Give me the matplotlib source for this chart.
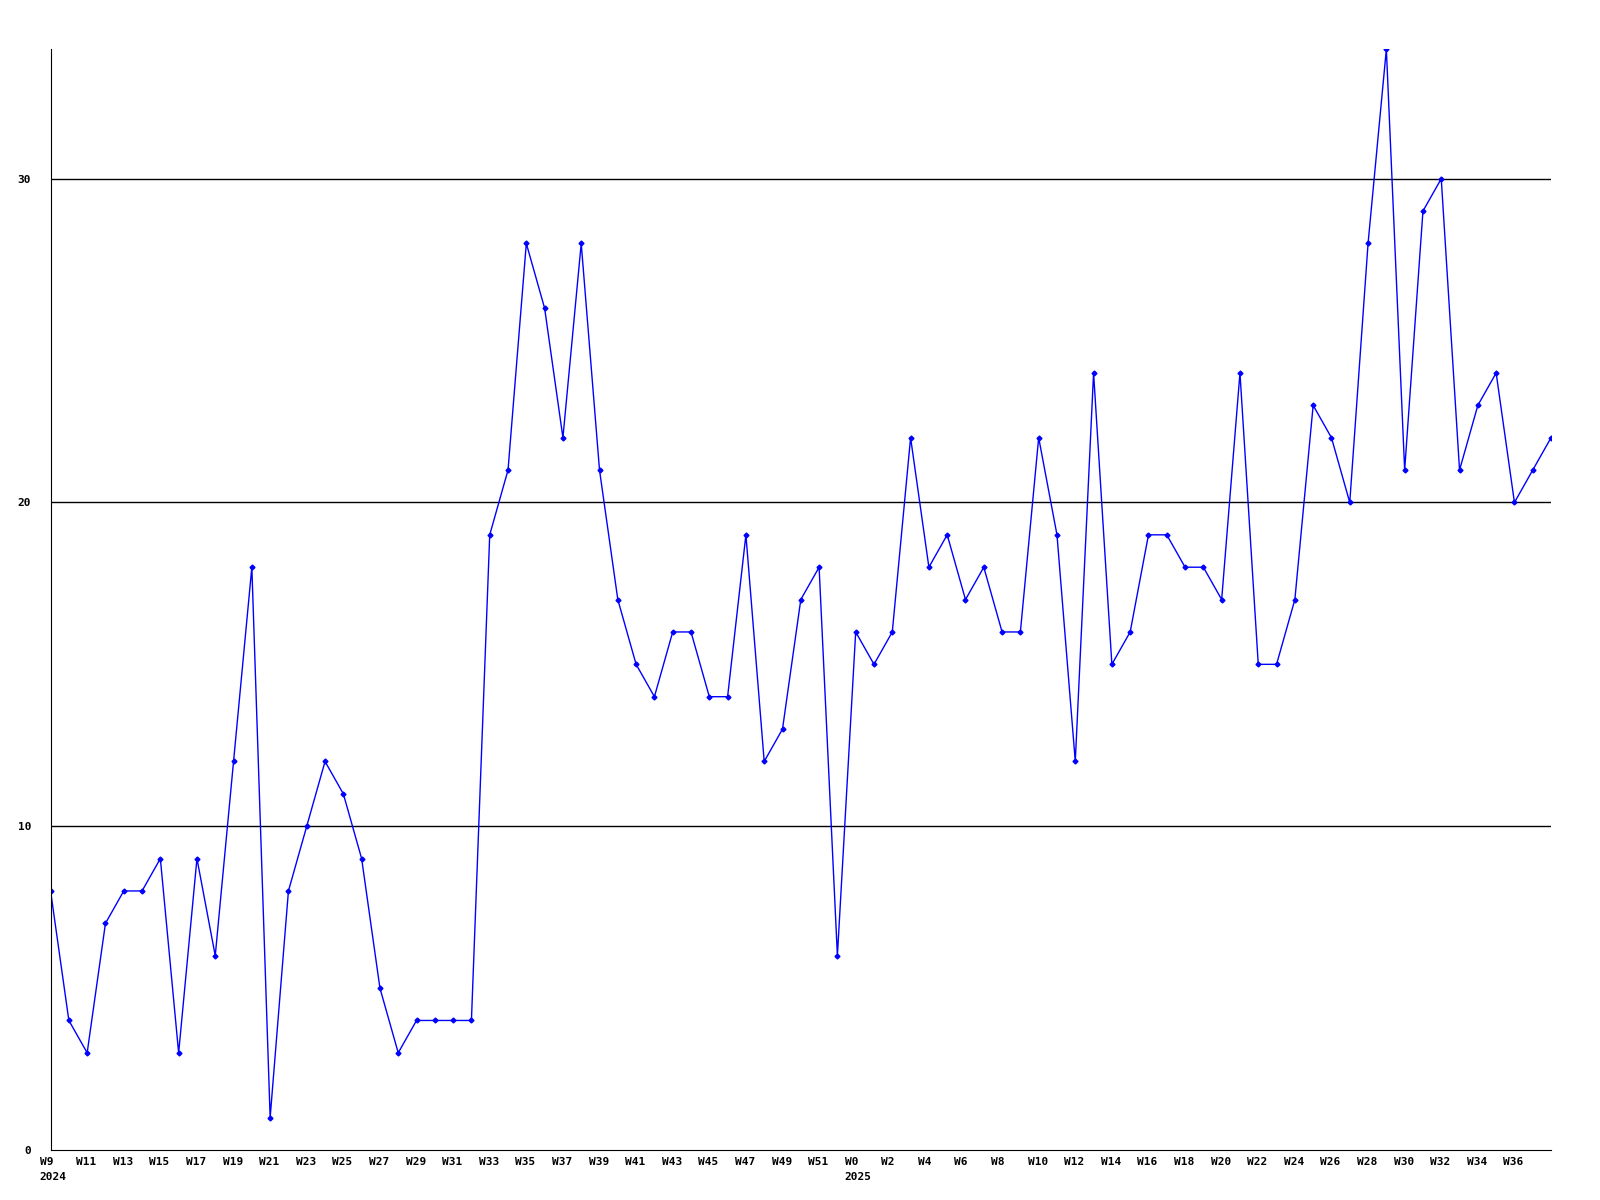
import matplotlib
matplotlib.use('Agg')
import matplotlib.pyplot as plt
import matplotlib.transforms as mtransforms

# weeks W9..W52 of 2024, then W0..W38 of 2025
weeks_2024 = list(range(9, 53))
weeks_2025 = list(range(0, 39))

values = [8, 4, 3, 7, 8, 8, 9, 3, 9, 6, 12, 18, 1, 8, 10, 12, 11, 9, 5, 3,
          4, 4, 4, 4, 19, 21, 28, 26, 22, 28, 21, 17, 15, 14, 16, 16, 14, 14,
          19, 12, 13, 17, 18, 6,
          16, 15, 16, 22, 18, 19, 17, 18, 16, 16, 22, 19, 12, 24, 15, 16, 19,
          19, 18, 18, 17, 24, 15, 15, 17, 23, 22, 20, 28, 34, 21, 29, 30, 21,
          23, 24, 20, 21, 22]

week_names = ['W%d' % w for w in weeks_2024] + ['W%d' % w for w in weeks_2025]
y_ticks = [0, 10, 20, 30]


def main():
    fig = plt.figure(figsize=(16, 12), dpi=100)
    ax = fig.add_axes([0.0316, 0.0417, 0.9378, 0.9173])

    x = list(range(len(values)))
    ax.plot(x, values, color='#0000ff', linewidth=1, marker='D', markersize=2.5)

    ax.set_xlim(0, len(values) - 1)
    ax.set_ylim(0, max(values))

    for v in y_ticks[1:]:
        ax.axhline(v, color='black', linewidth=1, zorder=0)

    tick_pos = list(range(0, len(values) - 1, 2))
    labels = []
    for i in tick_pos:
        lab = week_names[i]
        if i == 0:
            lab += '\n2024'
        elif i == len(weeks_2024):
            lab += '\n2025'
        labels.append(lab)
    ax.set_xticks(tick_pos)
    ax.set_xticklabels(labels, fontfamily='DejaVu Sans Mono', fontweight='bold',
                       fontsize=8, ha='left', linespacing=1.6)

    ax.set_yticks(y_ticks)
    ax.set_yticklabels([str(v) for v in y_ticks], fontfamily='DejaVu Sans Mono',
                       fontweight='bold', fontsize=8)
    ax.tick_params(axis='x', length=0, pad=5)
    ax.tick_params(axis='y', length=0, pad=14)

    # shift week labels a bit left of their point, like the original
    offset = mtransforms.ScaledTranslation(-11 / 100, 0, fig.dpi_scale_trans)
    for lab in ax.get_xticklabels():
        lab.set_transform(lab.get_transform() + offset)

    ax.spines['top'].set_visible(False)
    ax.spines['right'].set_visible(False)
    ax.spines['left'].set_color('black')
    ax.spines['bottom'].set_color('black')

    fig.savefig('out.png', dpi=100, facecolor='white')


if __name__ == "__main__":
    main()
